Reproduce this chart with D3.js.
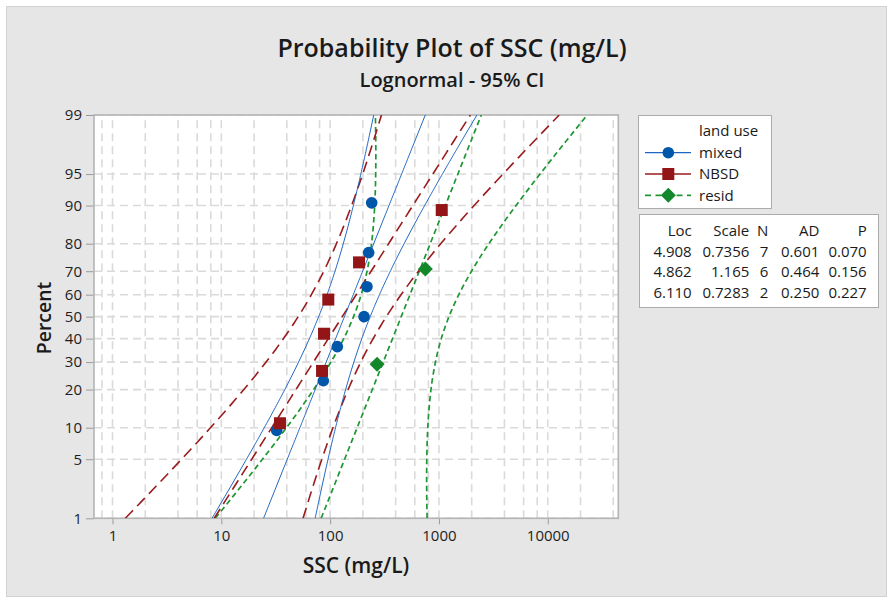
<!DOCTYPE html>
<html><head><meta charset="utf-8">
<script src="https://cdn.jsdelivr.net/npm/d3@7"></script>
<style>
body{margin:0;background:#fff}
text{font-family:'Open Sans','Noto Sans',sans-serif}
</style>
</head><body>
<svg id="c" width="887" height="597"></svg>
<script>
// ---------- data ----------
const seriesNames = ["mixed", "NBSD", "resid"];
const mixedSSC = [32.3, 86.6, 116.5, 205, 218, 226, 241];
const nbsdSSC = [34.6, 84.3, 87.9, 96.2, 184.4, 1061];
const residSSC = [270, 750];
const locValues = [4.908, 4.862, 6.110];
const scaleValues = [0.7356, 1.165, 0.7283];
const nValues = [7, 6, 2];
const adValues = ["0.601", "0.464", "0.250"];
const pValues = ["0.070", "0.156", "0.227"];
const locLabels = ["4.908", "4.862", "6.110"];
const scaleLabels = ["0.7356", "1.165", "0.7283"];
const percentTicks = [1, 5, 10, 20, 30, 40, 50, 60, 70, 80, 90, 95, 99];
const xTicks = [1, 10, 100, 1000, 10000];
const xTickLabels = ["1", "10", "100", "1000", "10000"];
const xGrid = [0.8, 1, 2, 4, 6, 8, 10, 20, 40, 60, 80, 100, 200, 400, 600, 800,
  1000, 2000, 4000, 6000, 8000, 10000, 20000, 40000];
const seriesData = [mixedSSC, nbsdSSC, residSSC];

// ---------- helpers ----------
function normInv(p) {
  const a = [-3.969683028665376e+01, 2.209460984245205e+02, -2.759285104469687e+02, 1.383577518672690e+02, -3.066479806614716e+01, 2.506628277459239e+00];
  const b = [-5.447609879822406e+01, 1.615858368580409e+02, -1.556989798598866e+02, 6.680131188771972e+01, -1.328068155288572e+01];
  const c = [-7.784894002430293e-03, -3.223964580411365e-01, -2.400758277161838e+00, -2.549732539343734e+00, 4.374664141464968e+00, 2.938163982698783e+00];
  const d = [7.784695709041462e-03, 3.224671290700398e-01, 2.445134137142996e+00, 3.754408661907416e+00];
  const pl = 0.02425, ph = 1 - pl;
  let q, r;
  if (p < pl) { q = Math.sqrt(-2 * Math.log(p));
    return (((((c[0]*q+c[1])*q+c[2])*q+c[3])*q+c[4])*q+c[5]) / ((((d[0]*q+d[1])*q+d[2])*q+d[3])*q+1); }
  if (p <= ph) { q = p - 0.5; r = q*q;
    return (((((a[0]*r+a[1])*r+a[2])*r+a[3])*r+a[4])*r+a[5])*q / (((((b[0]*r+b[1])*r+b[2])*r+b[3])*r+b[4])*r+1); }
  q = Math.sqrt(-2 * Math.log(1 - p));
  return -(((((c[0]*q+c[1])*q+c[2])*q+c[3])*q+c[4])*q+c[5]) / ((((d[0]*q+d[1])*q+d[2])*q+d[3])*q+1);
}
function gammaHalf(x) {
  let r = (x % 1 === 0) ? 1 : Math.sqrt(Math.PI);
  for (let t = (x % 1 === 0) ? 1 : 0.5; t < x; t++) r *= t;
  return r;
}
function c4(n) { return Math.sqrt(2 / (n - 1)) * gammaHalf(n / 2) / gammaHalf((n - 1) / 2); }

// ---------- layout ----------
const svg = d3.select("#c");
const L = 94, R = 618.3, T = 115, B = 518.3;
const colors = ["#0056A8", "#931518", "#12882A"];
const lineColors = ["#1F66C2", "#9A1B1E", "#1E9632"];
const dashes = [null, "11,6", "5.5,3.5"];
const lineW = [1, 1.6, 1.7];

svg.append("rect").attr("x", 6.5).attr("y", 6.5).attr("width", 880).attr("height", 590)
  .attr("fill", "#E6E6E6").attr("stroke", "#D2D2D2");

const x = d3.scaleLog().domain([0.676, 44500]).range([L, R]);
const zMin = normInv(0.01), zMax = normInv(0.99);
const y = d3.scaleLinear().domain([zMin, zMax]).range([B, T]);
const yp = p => y(normInv(p / 100));

svg.append("rect").attr("x", L).attr("y", T).attr("width", R - L).attr("height", B - T).attr("fill", "#fff");

svg.append("clipPath").attr("id", "clip").append("rect")
  .attr("x", L).attr("y", T).attr("width", R - L).attr("height", B - T);

// grid
const grid = svg.append("g").attr("stroke", "#DADADA").attr("stroke-width", 1.6)
  .attr("stroke-dasharray", "8,5").attr("clip-path", "url(#clip)");
xGrid.forEach(v => grid.append("line").attr("x1", x(v)).attr("x2", x(v)).attr("y1", B).attr("y2", T));
percentTicks.forEach(p => grid.append("line").attr("x1", L).attr("x2", R).attr("y1", yp(p)).attr("y2", yp(p)));

// axes
const xAxis = d3.axisBottom(x).tickValues(xTicks).tickFormat((d, i) => xTickLabels[i]).tickSize(6).tickPadding(6);
const gx = svg.append("g").attr("transform", `translate(0,${B})`).call(xAxis);
gx.select(".domain").remove();
gx.selectAll("line").attr("stroke", "#9A9A9A");
gx.selectAll("text").attr("font-size", 15).attr("fill", "#1E1E1E").attr("font-family", "'Open Sans',sans-serif");

const yS = d3.scaleLinear().domain([zMin, zMax]).range([B, T]);
const yAxis = d3.axisLeft(yS).tickValues(percentTicks.map(p => normInv(p / 100)))
  .tickFormat((d, i) => percentTicks[i]).tickSize(8).tickPadding(4);
const gy = svg.append("g").attr("transform", `translate(${L},0)`).call(yAxis);
gy.select(".domain").remove();
gy.selectAll("line").attr("stroke", "#9A9A9A");
gy.selectAll("text").attr("font-size", 15).attr("fill", "#1E1E1E").attr("font-family", "'Open Sans',sans-serif");

// frame
svg.append("rect").attr("x", L).attr("y", T).attr("width", R - L).attr("height", B - T)
  .attr("fill", "none").attr("stroke", "#B4B4B4").attr("stroke-width", 1.6);

// fit + CI lines
const plot = svg.append("g").attr("clip-path", "url(#clip)");
const zs = d3.range(0, 201).map(i => zMin + (zMax - zMin) * i / 200);
const line = d3.line().x(d => x(d[0])).y(d => y(d[1]));
[2, 1, 0].forEach(s => {
  const mu = locValues[s], sg = scaleValues[s], n = nValues[s];
  const vs = 1 - c4(n) * c4(n);
  const fit = zs.map(z => [Math.exp(mu + sg * z), z]);
  const lo = zs.map(z => [Math.exp(mu + sg * z - 1.96 * sg * Math.sqrt(1 / n + vs * z * z)), z]);
  const hi = zs.map(z => [Math.exp(mu + sg * z + 1.96 * sg * Math.sqrt(1 / n + vs * z * z)), z]);
  [fit, lo, hi].forEach(pts => {
    plot.append("path").attr("d", line(pts)).attr("fill", "none")
      .attr("stroke", lineColors[s]).attr("stroke-width", lineW[s])
      .attr("stroke-dasharray", dashes[s]);
  });
});

// points
function marker(g, s, cx, cy) {
  if (s === 0) g.append("circle").attr("cx", cx).attr("cy", cy).attr("r", 5.8).attr("fill", colors[0]);
  else if (s === 1) g.append("rect").attr("x", cx - 6).attr("y", cy - 6).attr("width", 12).attr("height", 12).attr("fill", colors[1]);
  else g.append("path").attr("d", `M${cx},${cy - 7.5}L${cx + 7.5},${cy}L${cx},${cy + 7.5}L${cx - 7.5},${cy}Z`).attr("fill", colors[2]);
}
const pts = svg.append("g");
seriesData.forEach((arr, s) => {
  const n = arr.length;
  arr.slice().sort((a, b) => a - b).forEach((v, i) => {
    const p = (i + 1 - 0.3) / (n + 0.4);
    marker(pts, s, x(v), y(normInv(p)));
  });
});

// titles
svg.append("text").attr("x", 452).attr("y", 57).attr("text-anchor", "middle")
  .attr("font-size", 25).attr("font-weight", 600).attr("fill", "#1A1A1A").text("Probability Plot of SSC (mg/L)");
svg.append("text").attr("x", 452).attr("y", 86.5).attr("text-anchor", "middle")
  .attr("font-size", 20).attr("font-weight", 600).attr("fill", "#1A1A1A").text("Lognormal - 95% CI");
svg.append("text").attr("x", 356).attr("y", 573).attr("text-anchor", "middle")
  .attr("font-size", 21).attr("font-weight", 600).attr("fill", "#1A1A1A").text("SSC (mg/L)");
svg.append("text").attr("transform", "translate(51,318) rotate(-90)").attr("text-anchor", "middle")
  .attr("font-size", 19.5).attr("font-weight", 600).attr("fill", "#1A1A1A").text("Percent");

// legend
const lg = svg.append("g");
lg.append("rect").attr("x", 638.5).attr("y", 115.5).attr("width", 133).attr("height", 93)
  .attr("fill", "#fff").attr("stroke", "#ABABAB");
lg.append("text").attr("x", 699).attr("y", 136).attr("font-size", 15).attr("fill", "#1A1A1A").text("land use");
const rowY = [152.7, 174, 195.3];
seriesNames.forEach((nm, s) => {
  const cy = rowY[s];
  if (s === 2) {
    lg.append("line").attr("x1", 645).attr("x2", 691).attr("y1", cy).attr("y2", cy)
      .attr("stroke", lineColors[2]).attr("stroke-width", 1.8).attr("stroke-dasharray", "6,4.5");
  } else {
    lg.append("line").attr("x1", 645).attr("x2", 691).attr("y1", cy).attr("y2", cy)
      .attr("stroke", lineColors[s]).attr("stroke-width", s === 0 ? 1.2 : 1.6);
  }
  marker(lg, s, 668.3, cy);
  lg.append("text").attr("x", 699).attr("y", cy + 5.3).attr("font-size", 15).attr("fill", "#1A1A1A").text(nm);
});

// stats table
const tb = svg.append("g").attr("font-size", 15).attr("fill", "#1A1A1A").attr("text-anchor", "end");
tb.append("rect").attr("x", 639.5).attr("y", 214.5).attr("width", 239).attr("height", 93)
  .attr("fill", "#fff").attr("stroke", "#ABABAB");
const colX = [691.7, 749.3, 768.3, 819.3, 866.7];
const headers = ["Loc", "Scale", "N", "AD", "P"];
headers.forEach((h, j) => tb.append("text").attr("x", colX[j]).attr("y", 236).text(h));
const rowBase = [257, 277, 297.5];
seriesNames.forEach((nm, s) => {
  const vals = [locLabels[s], scaleLabels[s], String(nValues[s]), adValues[s], pValues[s]];
  vals.forEach((v, j) => tb.append("text").attr("x", colX[j]).attr("y", rowBase[s]).text(v));
});
</script>
</body></html>
